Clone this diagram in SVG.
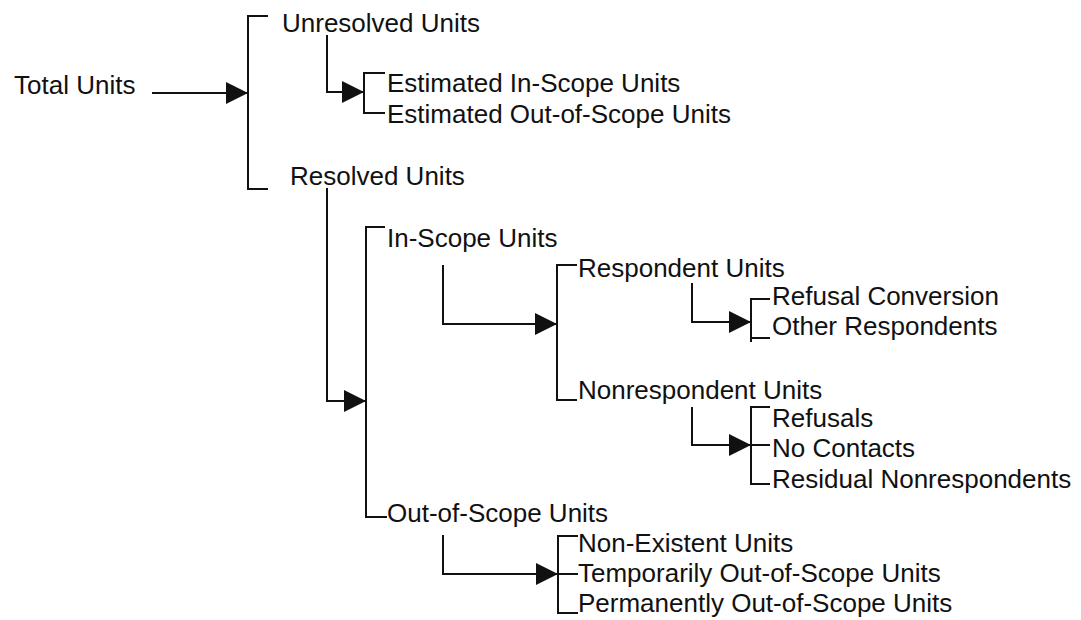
<svg xmlns="http://www.w3.org/2000/svg" width="1081" height="620" viewBox="0 0 1081 620">
<style>
text{font-family:"Liberation Sans",Arial,Helvetica,sans-serif;font-size:26px;fill:#111}
.c{fill:none;stroke:#111;stroke-width:2}
</style>
<defs>
<marker id="ah" markerUnits="userSpaceOnUse" markerWidth="22" markerHeight="22" refX="20" refY="10" orient="auto" viewBox="0 0 20 20">
<path d="M0,0 L20,10 L0,20 z" fill="#111"/>
</marker>
</defs>
<rect width="1081" height="620" fill="#fff"/>
<g id="connectors">
<path class="c" d="M152,93 H248" marker-end="url(#ah)"/>
<path class="c" d="M268,16 H248 V189 H268"/>
<path class="c" d="M327,35 V92 H364" marker-end="url(#ah)"/>
<path class="c" d="M385,73 H364 V113 H385"/>
<path class="c" d="M327,188 V401 H366" marker-end="url(#ah)"/>
<path class="c" d="M385,227 H366 V517 H387"/>
<path class="c" d="M443,265 V324 H557" marker-end="url(#ah)"/>
<path class="c" d="M577,265 H557 V400 H577"/>
<path class="c" d="M692,283 V322 H751" marker-end="url(#ah)"/>
<path class="c" d="M770,299 H751 V342 M751,338 H770"/>
<path class="c" d="M692,407 V445 H751" marker-end="url(#ah)"/>
<path class="c" d="M770,407 H751 V484 H770 M751,445 H770"/>
<path class="c" d="M443,535 V574 H558" marker-end="url(#ah)"/>
<path class="c" d="M578,536 H558 V613 H578 M558,574 H578"/>
</g>
<g id="total-units"><text x="14" y="94">Total Units</text></g>
<g id="unresolved-units"><text x="282" y="32">Unresolved Units</text></g>
<g id="est-in-scope"><text x="387" y="92">Estimated In-Scope Units</text></g>
<g id="est-out-of-scope"><text x="387" y="123">Estimated Out-of-Scope Units</text></g>
<g id="resolved-units"><text x="290" y="185">Resolved Units</text></g>
<g id="in-scope-units"><text x="387" y="247">In-Scope Units</text></g>
<g id="respondent-units"><text x="578" y="277">Respondent Units</text></g>
<g id="nonrespondent-units"><text x="578" y="399">Nonrespondent Units</text></g>
<g id="refusal-conversion"><text x="772" y="305">Refusal Conversion</text></g>
<g id="other-respondents"><text x="772" y="335">Other Respondents</text></g>
<g id="refusals"><text x="772" y="427">Refusals</text></g>
<g id="no-contacts"><text x="772" y="457">No Contacts</text></g>
<g id="residual-nonrespondents"><text x="772" y="488">Residual Nonrespondents</text></g>
<g id="out-of-scope-units"><text x="387" y="522">Out-of-Scope Units</text></g>
<g id="non-existent-units"><text x="578" y="552">Non-Existent Units</text></g>
<g id="temp-out-of-scope"><text x="578" y="582">Temporarily Out-of-Scope Units</text></g>
<g id="perm-out-of-scope"><text x="578" y="612">Permanently Out-of-Scope Units</text></g>
</svg>
